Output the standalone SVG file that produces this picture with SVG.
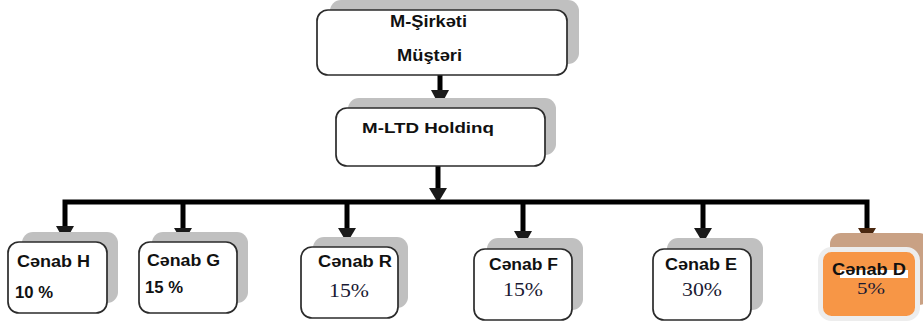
<svg xmlns="http://www.w3.org/2000/svg" width="923" height="322" viewBox="0 0 923 322">
<style>
.sh{fill:#c0c0c0}
.bx{fill:#ffffff;stroke:#2b2b2b;stroke-width:1.7}
.b{font-family:"Liberation Sans",Arial,sans-serif;font-weight:bold;fill:#111}
.s{font-family:"Liberation Serif","Times New Roman",serif;fill:#1a1a33}
.ln{fill:none;stroke:#000;stroke-width:5;stroke-linejoin:miter}
.ah{fill:#1a1a1a}
</style>
<rect width="923" height="322" fill="#ffffff"/>
<g id="connectors">
<path class="ln" d="M440 75V92"/>
<polygon class="ah" points="431,90 449,90 440,107"/>
<path class="ln" d="M438 166V190"/>
<polygon class="ah" points="429,188 447,188 438,203"/>
<path class="ln" d="M65 228V202H867V228"/>
<path class="ln" d="M183 202V230"/>
<path class="ln" d="M347 202V230"/>
<path class="ln" d="M523 202V232"/>
<path class="ln" d="M703 202V230"/>
<polygon class="ah" points="56,226 74,226 65,242"/>
<polygon class="ah" points="174,228 192,228 183,243"/>
<polygon class="ah" points="338,228 356,228 347,243"/>
<polygon class="ah" points="514,231 532,231 523,247"/>
<polygon class="ah" points="694,228 712,228 703,243"/>
<polygon points="858,228 876,228 867,243" fill="#4a2810"/>
</g>
<g id="node-msirketi">
<rect class="sh" x="330" y="0" width="249" height="64" rx="11"/>
<rect class="bx" x="317" y="10" width="250" height="65" rx="11"/>
<text class="b" x="390" y="27" font-size="16" textLength="77" lengthAdjust="spacingAndGlyphs">M-Şirkəti</text>
<text class="b" x="397" y="61" font-size="16" textLength="65" lengthAdjust="spacingAndGlyphs">Müştəri</text>
</g>
<g id="node-mltd">
<rect class="sh" x="348" y="98" width="208" height="57" rx="11"/>
<rect class="bx" x="336" y="108" width="209" height="58" rx="11"/>
<text class="b" x="362" y="133" font-size="15" textLength="132" lengthAdjust="spacingAndGlyphs">M-LTD Holdinq</text>
</g>
<g id="node-h">
<rect class="sh" x="22" y="232" width="96" height="71" rx="11"/>
<rect class="bx" x="8" y="242" width="99" height="71" rx="11"/>
<text class="b" x="17" y="267" font-size="16" textLength="73" lengthAdjust="spacingAndGlyphs">Cənab H</text>
<text class="b" x="15" y="298" font-size="16" textLength="38" lengthAdjust="spacingAndGlyphs">10 %</text>
</g>
<g id="node-g">
<rect class="sh" x="152" y="232" width="96" height="71" rx="11"/>
<rect class="bx" x="139" y="242" width="98" height="71" rx="11"/>
<text class="b" x="147" y="266" font-size="16" textLength="73" lengthAdjust="spacingAndGlyphs">Cənab G</text>
<text class="b" x="145" y="293" font-size="16" textLength="38" lengthAdjust="spacingAndGlyphs">15 %</text>
</g>
<g id="node-r">
<rect class="sh" x="313" y="237" width="95" height="71" rx="11"/>
<rect class="bx" x="301" y="247" width="97" height="71" rx="11"/>
<text class="b" x="318" y="267" font-size="16" textLength="74" lengthAdjust="spacingAndGlyphs">Cənab R</text>
<text class="s" x="329" y="297" font-size="18" textLength="40" lengthAdjust="spacingAndGlyphs">15%</text>
</g>
<g id="node-f">
<rect class="sh" x="487" y="238" width="96" height="72" rx="11"/>
<rect class="bx" x="474" y="249" width="98" height="71" rx="11"/>
<text class="b" x="489" y="270" font-size="16" textLength="69" lengthAdjust="spacingAndGlyphs">Cənab F</text>
<text class="s" x="503" y="296" font-size="18" textLength="40" lengthAdjust="spacingAndGlyphs">15%</text>
</g>
<g id="node-e">
<rect class="sh" x="667" y="238" width="96" height="72" rx="11"/>
<rect class="bx" x="653" y="249" width="98" height="71" rx="11"/>
<text class="b" x="665" y="270" font-size="16" textLength="72" lengthAdjust="spacingAndGlyphs">Cənab E</text>
<text class="s" x="682" y="296" font-size="18" textLength="40" lengthAdjust="spacingAndGlyphs">30%</text>
</g>
<g id="node-d">
<rect x="830" y="233" width="100" height="72" rx="11" fill="#c9a184"/>
<rect x="820.5" y="249.5" width="97" height="69" rx="11" fill="#f79646" stroke="#ededed" stroke-width="5"/>
<rect x="840" y="270" width="68" height="8" fill="#ffffff"/>
<text class="b" x="832" y="275" font-size="16" textLength="74" lengthAdjust="spacingAndGlyphs">Cənab D</text>
<text class="s" x="857" y="294" font-size="17" textLength="28" lengthAdjust="spacingAndGlyphs">5%</text>
</g>
</svg>
